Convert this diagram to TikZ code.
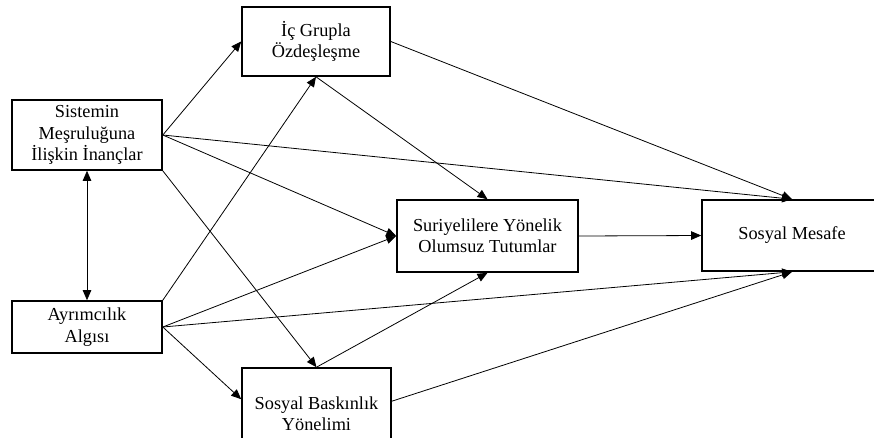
\documentclass[tikz,border=0pt]{standalone}
\usepackage{fontspec}
\setmainfont{Liberation Serif}
\usetikzlibrary{arrows.meta,calc}
\begin{document}
\begin{tikzpicture}[x=1pt,y=-1pt,
  box/.style={draw, line width=1.6pt, rectangle, align=center, inner sep=0pt,
    font=\fontsize{18.3}{21.3}\selectfont},
  conn/.style={line width=0.8pt, -{Triangle[length=10pt,width=8.5pt]}},
  dconn/.style={line width=0.8pt, {Triangle[length=10pt,width=8.5pt]}-{Triangle[length=10pt,width=8.5pt]}}]
\useasboundingbox (0,0) rectangle (874,437);
\clip (0,0) rectangle (874,437);
\node[box, minimum width=150pt, minimum height=70pt] (sis) at (87,135) {Sistemin\\Meşruluğuna\\İlişkin İnançlar};
\node[box, minimum width=148pt, minimum height=69pt] (ic) at (316,41.5) {İç Grupla\\Özdeşleşme};
\node[box, minimum width=150pt, minimum height=52pt] (ayr) at (87,327) {Ayrımcılık\\Algısı};
\node[box, minimum width=149pt, minimum height=92pt] (bask) at (316.5,414) {Sosyal Baskınlık\\Yönelimi};
\node[box, minimum width=181pt, minimum height=72pt] (sur) at (487.5,236) {Suriyelilere Yönelik\\Olumsuz Tutumlar};
\node[box, minimum width=180pt, minimum height=71pt] (sm) at (792,235.5) {Sosyal Mesafe};
\coordinate (baskW) at ($(bask.north west)+(0,32)$);
\coordinate (baskE) at ($(bask.north east)+(0,34)$);
\draw[conn] (sis.east) -- (ic.west);
\draw[conn] (sis.east) -- (sur.west);
\draw[conn] (sis.east) -- (sm.north);
\draw[conn] (sis.south east) -- (bask.north);
\draw[dconn] (sis.south) -- (ayr.north);
\draw[conn] (ayr.north east) -- (ic.south);
\draw[conn] (ayr.east) -- (sur.west);
\draw[conn] (ayr.east) -- (sm.south);
\draw[conn] (ayr.east) -- (baskW);
\draw[conn] (ic.south) -- (sur.north);
\draw[conn] (bask.north) -- (sur.south);
\draw[conn] (ic.east) -- (sm.north);
\draw[conn] (baskE) -- (sm.south);
\draw[conn] (sur.east) -- (sm.west);
\end{tikzpicture}
\end{document}
